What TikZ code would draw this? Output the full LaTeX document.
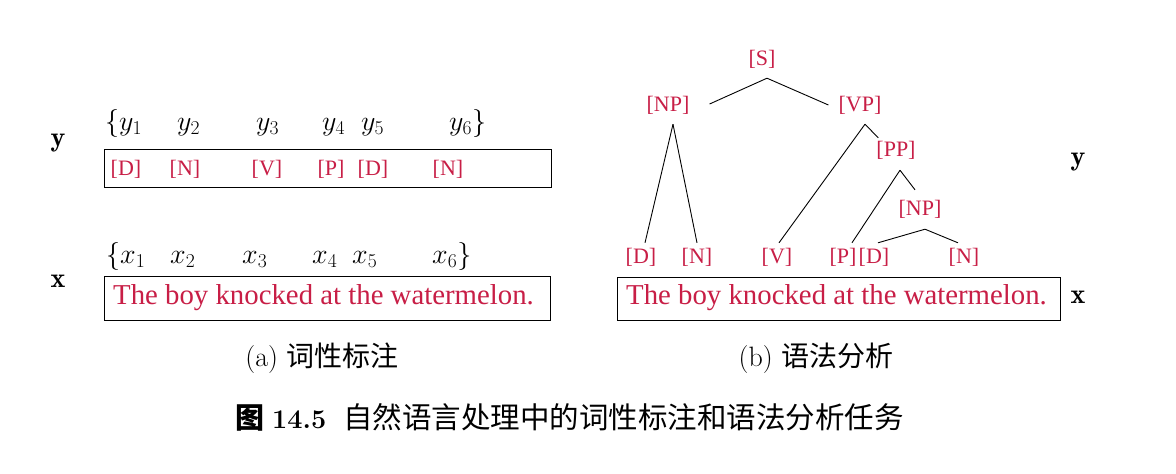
\RequirePackage{fix-cm}
\documentclass[tikz,border=0pt]{standalone}
\usepackage{fontspec}
\newfontfamily\tms{Liberation Serif}
\newfontfamily\cjk{Noto Sans CJK SC}
\definecolor{tagred}{RGB}{200,30,70}
\begin{document}
\begin{tikzpicture}[x=1pt,y=-1pt,
 tagtxt/.style={font=\tms\fontsize{22}{24}\selectfont, text=tagred, inner sep=0pt, text height=15pt, text depth=5pt},
 senttxt/.style={font=\tms\fontsize{28.8}{32}\selectfont, text=tagred, inner sep=0pt, anchor=west},
 mthtxt/.style={font=\fontsize{28}{32}\selectfont, inner sep=0pt, anchor=base west},
 vlabtxt/.style={font=\fontsize{28}{32}\selectfont, inner sep=0pt, anchor=base},
 rbox/.style={draw, line width=1.1pt, inner sep=0pt, anchor=north west},
 treeline/.style={line width=0.9pt},
 subcap/.style={font=\fontsize{28}{32}\selectfont, inner sep=0pt, anchor=base}]
\useasboundingbox[fill=white] (0,0) rectangle (1176,474);

% ---- left panel ----
\node[vlabtxt] (ylab) at (58,146) {$\mathbf{y}$};
\node[mthtxt] (y1) at (105,130) {$\{y_1$};
\node[mthtxt] (y2) at (177,130) {$y_2$};
\node[mthtxt] (y3) at (256,130) {$y_3$};
\node[mthtxt] (y4) at (322,130) {$y_4$};
\node[mthtxt] (y5) at (361,130) {$y_5$};
\node[mthtxt] (y6) at (449,130) {$y_6\}$};
\node[rbox, minimum width=447pt, minimum height=38pt] (tagbox) at (104,149) {};
\node[tagtxt] (tD1) at (126,170) {[D]};
\node[tagtxt] (tN1) at (185,170) {[N]};
\node[tagtxt] (tV)  at (267,170) {[V]};
\node[tagtxt] (tP)  at (331,170) {[P]};
\node[tagtxt] (tD2) at (373,170) {[D]};
\node[tagtxt] (tN2) at (448,170) {[N]};

\node[vlabtxt] (xlab) at (58,287) {$\mathbf{x}$};
\node[mthtxt] (x1) at (106,263) {$\{x_1$};
\node[mthtxt] (x2) at (170,263) {$x_2$};
\node[mthtxt] (x3) at (242,263) {$x_3$};
\node[mthtxt] (x4) at (312,263) {$x_4$};
\node[mthtxt] (x5) at (352,263) {$x_5$};
\node[mthtxt] (x6) at (432,263) {$x_6\}$};
\node[rbox, minimum width=446pt, minimum height=44pt] (sentboxL) at (104,276) {};
\node[senttxt] (sentL) at (113,298) {The boy knocked at the watermelon.};

\node[subcap] (capa) at (322,366) {(a) {\cjk 词性标注}};

% ---- right panel ----
\node[tagtxt] (S)   at (762,60)  {[S]};
\node[tagtxt] (NP)  at (668,106) {[NP]};
\node[tagtxt] (VP)  at (860,106) {[VP]};
\node[tagtxt] (PP)  at (896,151) {[PP]};
\node[tagtxt] (NP2) at (920,210) {[NP]};
\node[tagtxt] (D1)  at (641,258) {[D]};
\node[tagtxt] (N1)  at (697,258) {[N]};
\node[tagtxt] (V)   at (777,258) {[V]};
\node[tagtxt] (P)   at (843,258) {[P]};
\node[tagtxt] (D2)  at (874,258) {[D]};
\node[tagtxt] (N2)  at (964,258) {[N]};

\draw[treeline] ([shift={(5,8)}]S.south) -- ([shift={(20,-2)}]NP.east);
\draw[treeline] ([shift={(5,8)}]S.south) -- ([shift={(-10,-1)}]VP.west);
\draw[treeline] ([shift={(5,8)}]NP.south) -- ([shift={(4,-5)}]D1.north);
\draw[treeline] ([shift={(5,8)}]NP.south) -- ([shift={(0,-5)}]N1.north);
\draw[treeline] ([shift={(5,8)}]VP.south) -- ([shift={(2,-5)}]V.north);
\draw[treeline] ([shift={(5,8)}]VP.south) -- ([shift={(2,-3)}]PP.north west);
\draw[treeline] ([shift={(4,9)}]PP.south) -- ([shift={(9,-5)}]P.north);
\draw[treeline] ([shift={(4,9)}]PP.south) -- ([shift={(-5,-10)}]NP2.north);
\draw[treeline] ([shift={(5,9)}]NP2.south) -- ([shift={(4,-5)}]D2.north);
\draw[treeline] ([shift={(5,9)}]NP2.south) -- ([shift={(-6,-5)}]N2.north);

\node[rbox, minimum width=443pt, minimum height=43pt] (sentboxR) at (617,277) {};
\node[senttxt] (sentR) at (626,298) {The boy knocked at the watermelon.};
\node[vlabtxt] (ylabR) at (1078,165) {$\mathbf{y}$};
\node[vlabtxt] (xlabR) at (1078,303) {$\mathbf{x}$};

\node[subcap] (capb) at (816,366) {(b) {\cjk 语法分析}};

% ---- main caption ----
\node[font=\fontsize{27}{30}\selectfont, inner sep=0pt, anchor=base west] (maincap) at (235,428)
  {{\cjk\bfseries\fontsize{29}{32}\selectfont 图}\hspace{8pt}\textbf{14.5}\hspace{17pt}{\cjk\fontsize{29.5}{32}\selectfont 自然语言处理中的词性标注和语法分析任务}};
\end{tikzpicture}
\end{document}
